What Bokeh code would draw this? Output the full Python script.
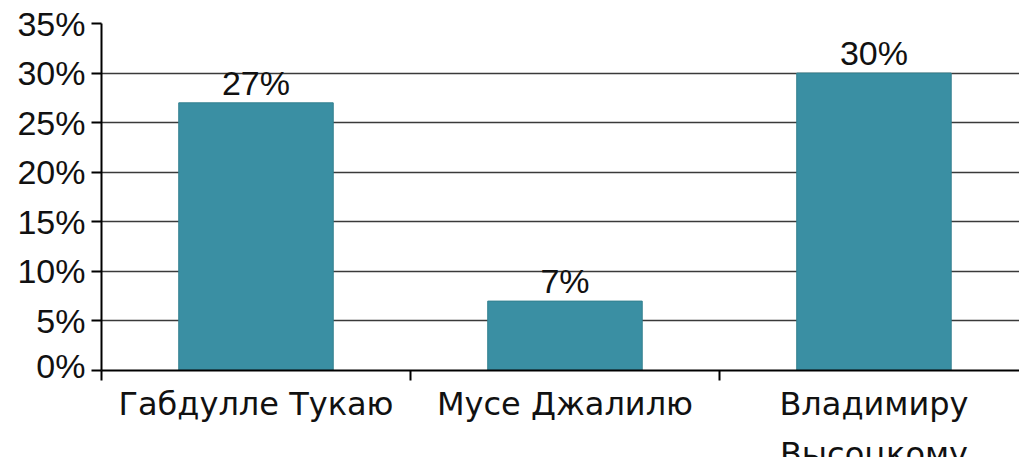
from bokeh.plotting import figure
from bokeh.layouts import column
from bokeh.models import ColumnDataSource, LabelSet, Range1d, FixedTicker, PrintfTickFormatter
from bokeh.core.properties import value
from bokeh.embed import file_html
from bokeh.resources import INLINE

categories = ["Габдулле Тукаю", "Мусе Джалилю", "Владимиру\nВысоцкому"]
values = [27, 7, 30]
value_labels = ["27%", "7%", "30%"]
y_ticks = [0, 5, 10, 15, 20, 25, 30, 35]

FONT = "Liberation Sans"
FS = "34px"
CAT_FONT = "DejaVu Sans"
CAT_FS = "32px"

xs = [i + 0.5 for i in range(len(categories))]
src = ColumnDataSource(dict(x=xs, top=values, lab=value_labels, cat=categories,
                            cy=[0] * len(categories)))

p = figure(width=1019, height=384, output_backend="svg", toolbar_location=None,
           x_range=Range1d(0, 2.971), y_range=Range1d(0, 35),
           min_border_left=101, min_border_right=0, min_border_top=23, min_border_bottom=14)
p.outline_line_color = None
p.background_fill_color = "white"
p.border_fill_color = "white"

p.vbar(x="x", top="top", width=0.5, bottom=0, source=src,
       fill_color="#3a8fa3", line_color="#33808f", line_width=1)

# y axis
p.yaxis.ticker = FixedTicker(ticks=y_ticks)
p.yaxis.formatter = PrintfTickFormatter(format="%d%%")
p.yaxis.major_label_text_font = FONT
p.yaxis.major_label_text_font_size = FS
p.yaxis.major_label_text_color = "#111111"
p.yaxis.major_tick_out = 10
p.yaxis.major_tick_in = 0
p.yaxis.minor_tick_line_color = None
p.yaxis.major_label_standoff = 6
p.yaxis.axis_line_color = "black"
p.yaxis.axis_line_width = 2
p.yaxis.major_tick_line_color = "black"
p.yaxis.major_tick_line_width = 2

# x axis: ticks at category boundaries; category names are drawn just below
p.xaxis.ticker = FixedTicker(ticks=list(range(len(categories) + 1)))
p.xaxis.major_label_overrides = {i: "" for i in range(len(categories) + 1)}
p.xaxis.major_label_text_font_size = "1px"
p.xaxis.major_label_standoff = 0
p.xaxis.major_tick_out = 10
p.xaxis.major_tick_in = 0
p.xaxis.minor_tick_line_color = None
p.xaxis.axis_line_color = "black"
p.xaxis.axis_line_width = 2
p.xaxis.major_tick_line_color = "black"
p.xaxis.major_tick_line_width = 2

p.xgrid.grid_line_color = None
p.ygrid.ticker = FixedTicker(ticks=y_ticks)
p.ygrid.grid_line_color = "#3a3a3a"
p.ygrid.grid_line_width = 1.6

vals = LabelSet(x="x", y="top", text="lab", source=src, text_align="center",
                text_baseline="alphabetic", y_offset=8, text_font=value(FONT),
                text_font_size=FS, text_color="#111111")
p.add_layout(vals)

# category names strip (shares the x range)
p2 = figure(width=1019, height=73, output_backend="svg", toolbar_location=None,
            x_range=p.x_range, y_range=Range1d(73, 0),
            x_axis_location=None, y_axis_location=None,
            min_border_left=101, min_border_right=0, min_border_top=0, min_border_bottom=0)
p2.outline_line_color = None
p2.grid.visible = False
p2.background_fill_color = "white"
p2.border_fill_color = "white"
p2.text(x="x", y="cy", text="cat", source=src, text_align="center", text_baseline="top",
        text_font=value(CAT_FONT), text_font_size=CAT_FS, text_color="#111111",
        text_line_height=1.34)

layout = column(p, p2, spacing=0)
open("out.html", "w").write(file_html(layout, INLINE))
